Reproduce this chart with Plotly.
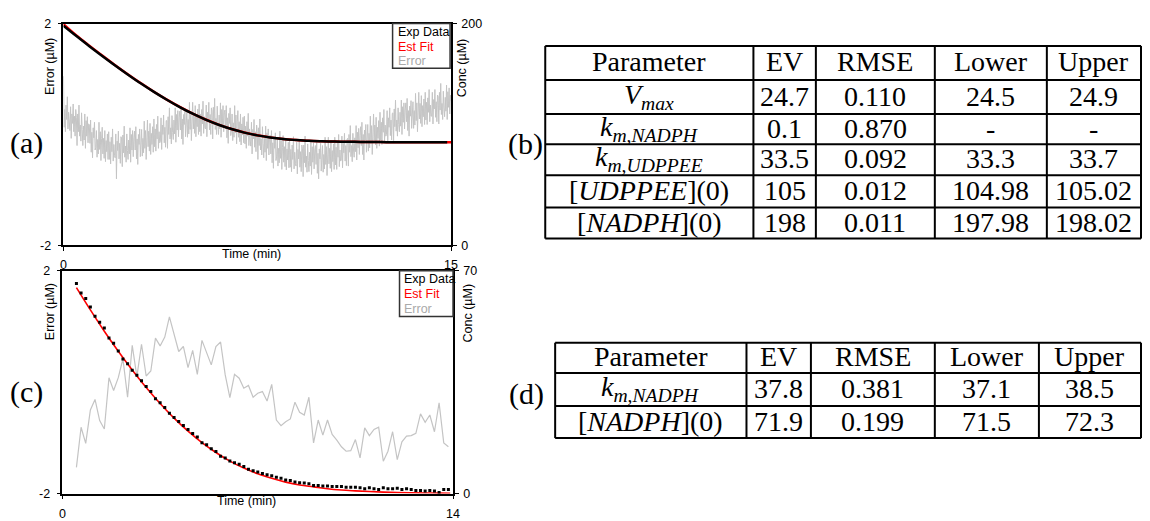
import plotly.graph_objects as go

W, H = 1150, 521

# ---------------- panel (a): full time course, 0-15 min ----------------
t_a_data = [i * 0.5 for i in range(30)] + [14.85]
conc_a_data = [198.0, 188.7, 179.6, 170.8, 162.2, 153.9, 145.9, 138.4, 131.3, 124.7,
               118.7, 113.4, 108.8, 104.9, 101.7, 99.2, 97.3, 95.9, 95.0, 94.3,
               93.9, 93.6, 93.4, 93.3, 93.2, 93.1, 93.1, 93.0, 93.0, 93.0, 93.0]
t_a_fit = [i * 0.5 for i in range(31)]
conc_a_fit = [199.5, 189.3, 180.1, 171.2, 162.5, 154.1, 146.1, 138.5, 131.4, 124.8,
              118.8, 113.5, 108.9, 105.0, 101.8, 99.3, 97.4, 96.0, 95.0, 94.3,
              93.9, 93.6, 93.4, 93.3, 93.2, 93.1, 93.1, 93.0, 93.0, 93.0, 93.0]
t_a_err = [i * 0.025 for i in range(601)]
err_a = [
    1.05, 0.13, 0.45, 0.05, 0.53, 0.27, 0.68, 0.10, 0.40, 0.20,
    0.07, 0.50, -0.07, 0.37, 0.20, 0.55, 0.05, 0.33, -0.03, 0.45,
    0.30, -0.20, 0.37, 0.05, 0.53, -0.03, 0.17, -0.12, 0.39, 0.09,
    -0.20, 0.15, -0.10, 0.37, -0.25, 0.25, -0.03, 0.32, -0.15, 0.19,
    0.18, -0.16, 0.26, -0.32, 0.04, -0.42, 0.12, -0.06, 0.22, -0.28,
    -0.23, 0.07, -0.41, -0.09, -0.35, 0.22, -0.27, 0.05, -0.47, -0.07,
    0.13, -0.35, -0.07, -0.43, 0.07, -0.49, -0.11, -0.31, 0.01, -0.45,
    0.05, -0.45, -0.13, -0.53, -0.05, -0.31, 0.10, -0.48, -0.18, -0.38,
    -0.42, 0.01, -0.80, -0.12, -0.29, 0.06, -0.44, -0.16, -0.52, -0.04,
    -0.08, -0.58, -0.01, -0.33, 0.15, -0.41, -0.21, -0.50, 0.01, -0.29,
    -0.45, -0.10, -0.35, 0.12, -0.50, 0.00, -0.28, 0.07, -0.40, -0.06,
    0.06, -0.28, 0.14, -0.44, -0.08, -0.54, 0.00, -0.18, 0.10, -0.40,
    -0.21, 0.09, -0.39, -0.07, -0.33, 0.24, -0.25, 0.07, -0.45, -0.05,
    0.26, -0.22, 0.06, -0.30, 0.20, -0.36, 0.02, -0.18, 0.14, -0.32,
    0.28, -0.22, 0.10, -0.30, 0.18, -0.08, 0.33, -0.25, 0.05, -0.15,
    -0.13, 0.30, -0.27, 0.17, 0.00, 0.35, -0.15, 0.13, -0.23, 0.25,
    0.25, -0.25, 0.32, 0.00, 0.48, -0.08, 0.12, -0.17, 0.34, 0.04,
    -0.09, 0.26, 0.01, 0.48, -0.14, 0.36, 0.08, 0.43, -0.04, 0.30,
    0.42, 0.08, 0.50, -0.08, 0.28, -0.18, 0.36, 0.18, 0.46, -0.04,
    0.13, 0.43, -0.05, 0.27, 0.01, 0.58, 0.09, 0.41, -0.11, 0.29,
    0.58, 0.10, 0.38, 0.02, 0.52, -0.04, 0.34, 0.14, 0.46, 0.00,
    0.55, 0.05, 0.37, -0.03, 0.45, 0.19, 0.60, 0.02, 0.32, 0.12,
    0.10, 0.53, -0.04, 0.40, 0.23, 0.58, 0.08, 0.36, 0.00, 0.48,
    0.42, -0.08, 0.49, 0.17, 0.65, 0.09, 0.29, 0.00, 0.51, 0.21,
    0.00, 0.35, 0.10, 0.57, -0.05, 0.45, 0.17, 0.52, 0.05, 0.39,
    0.44, 0.10, 0.52, -0.06, 0.30, -0.16, 0.38, 0.20, 0.48, -0.02,
    0.07, 0.37, -0.11, 0.21, -0.05, 0.52, 0.03, 0.35, -0.17, 0.23,
    0.43, -0.05, 0.23, -0.13, 0.37, -0.19, 0.19, -0.01, 0.31, -0.15,
    0.33, -0.17, 0.15, -0.25, 0.23, -0.03, 0.38, -0.20, 0.10, -0.10,
    -0.21, 0.22, -0.35, 0.09, -0.08, 0.27, -0.23, 0.05, -0.31, 0.17,
    0.05, -0.45, 0.12, -0.20, 0.28, -0.28, -0.08, -0.37, 0.14, -0.16,
    -0.42, -0.07, -0.32, 0.15, -0.47, 0.03, -0.25, 0.10, -0.37, -0.03,
    -0.01, -0.35, 0.07, -0.51, -0.15, -0.61, -0.07, -0.25, 0.03, -0.47,
    -0.39, -0.09, -0.57, -0.25, -0.51, 0.06, -0.43, -0.11, -0.63, -0.23,
    -0.02, -0.50, -0.22, -0.58, -0.08, -0.64, -0.26, -0.46, -0.14, -0.60,
    -0.09, -0.59, -0.27, -0.67, -0.19, -0.45, -0.04, -0.62, -0.32, -0.52,
    -0.57, -0.14, -0.71, -0.27, -0.44, -0.09, -0.59, -0.31, -0.67, -0.19,
    -0.26, -0.76, -0.19, -0.51, -0.03, -0.59, -0.39, -0.68, -0.17, -0.47,
    -0.67, -0.32, -0.57, -0.10, -0.72, -0.22, -0.50, -0.15, -0.62, -0.28,
    -0.20, -0.54, -0.12, -0.70, -0.34, -0.80, -0.26, -0.44, -0.16, -0.66,
    -0.50, -0.20, -0.68, -0.36, -0.62, -0.05, -0.54, -0.22, -0.74, -0.34,
    -0.05, -0.53, -0.25, -0.61, -0.11, -0.67, -0.29, -0.49, -0.17, -0.63,
    -0.05, -0.55, -0.23, -0.63, -0.15, -0.41, 0.00, -0.58, -0.28, -0.48,
    -0.46, -0.03, -0.60, -0.16, -0.33, 0.02, -0.48, -0.20, -0.56, -0.08,
    -0.07, -0.57, 0.00, -0.32, 0.16, -0.40, -0.20, -0.49, 0.02, -0.28,
    -0.41, -0.06, -0.31, 0.16, -0.46, 0.04, -0.24, 0.11, -0.36, -0.02,
    0.14, -0.20, 0.22, -0.36, 0.00, -0.46, 0.08, -0.10, 0.18, -0.32,
    -0.12, 0.18, -0.30, 0.02, -0.24, 0.33, -0.16, 0.16, -0.36, 0.04,
    0.37, -0.11, 0.17, -0.19, 0.31, -0.25, 0.13, -0.07, 0.25, -0.21,
    0.40, -0.10, 0.22, -0.18, 0.30, 0.04, 0.45, -0.13, 0.17, -0.03,
    0.00, 0.43, -0.14, 0.30, 0.13, 0.48, -0.02, 0.26, -0.10, 0.38,
    0.39, -0.11, 0.46, 0.14, 0.62, 0.06, 0.26, -0.03, 0.48, 0.18,
    0.05, 0.40, 0.15, 0.62, 0.00, 0.50, 0.22, 0.57, 0.10, 0.44,
    0.57, 0.23, 0.65, 0.07, 0.43, -0.03, 0.51, 0.33, 0.61, 0.11,
    0.29, 0.59, 0.11, 0.43, 0.17, 0.74, 0.25, 0.57, 0.05, 0.45,
    0.76, 0.28, 0.56, 0.20, 0.70, 0.14, 0.52, 0.32, 0.64, 0.18,
    0.76, 0.26, 0.58, 0.18, 0.66, 0.40, 0.81, 0.23, 0.53, 0.33,
    0.33, 0.76, 0.19, 0.63, 0.46, 0.81, 0.31, 0.59, 0.23, 0.71,
    0.69, 0.19, 0.76, 0.44, 0.92, 0.36, 0.56, 0.27, 0.78, 0.48,
    0.32, 0.67, 0.42, 0.89, 0.27, 0.77, 0.49, 0.84, 0.37, 0.71,
    0.60]

# ---------------- panel (c): sampled every 10 s, 0-14 min ----------------
t_c = [0.5 + i / 6 for i in range(81)]
conc_c_data = [66.0, 63.0, 61.3, 58.6, 55.7, 53.8, 52.0, 48.9, 47.2, 44.8,
               42.3, 40.8, 38.7, 37.2, 35.4, 33.6, 32.1, 29.8, 28.5, 27.0,
               25.2, 23.9, 22.6, 21.4, 20.1, 18.9, 17.8, 16.0, 15.3, 14.1,
               13.2, 11.7, 11.2, 10.2, 9.7, 9.2, 8.5, 7.6, 7.2, 6.8,
               6.3, 5.9, 5.6, 5.1, 4.8, 4.3, 4.1, 3.6, 3.4, 3.3,
               3.1, 2.5, 2.5, 2.4, 2.4, 2.2, 2.2, 2.2, 2.0, 2.0,
               2.0, 1.8, 1.5, 1.8, 1.5, 1.3, 1.8, 1.5, 1.5, 1.7,
               1.3, 1.5, 1.3, 1.0, 1.0, 0.8, 1.0, 0.8, 0.3, 1.3, 1.3]
err_c = [-1.53, -0.81, -1.10, -0.50, -0.31, -0.69, -0.84, 0.08, -0.15, 0.08,
         0.42, -0.27, 0.66, 0.10, 0.68, 0.11, 0.20, 0.79, 0.65, 0.81,
         1.17, 0.85, 0.55, 0.64, 0.26, 0.57, 0.14, 0.75, 0.54, 0.31,
         0.64, 0.72, 0.13, -0.28, 0.14, 0.07, -0.11, -0.06, -0.27, -0.20,
         -0.17, -0.34, -0.04, -0.68, -0.78, -0.71, -0.66, -0.36, -0.54, -0.59,
         -0.27, -1.09, -0.68, -0.95, -0.68, -0.94, -1.04, -1.16, -1.24, -1.23,
         -1.03, -1.36, -0.82, -0.96, -0.85, -0.81, -1.42, -1.24, -0.89, -1.39,
         -1.07, -0.97, -0.96, -0.92, -0.57, -0.72, -0.59, -0.89, -0.37, -1.09, -1.16]
t_c_fit = [0.5 + i * 0.5 for i in range(27)] + [13.9]
conc_c_fit = [64.7, 57.7, 51.0, 44.7, 38.8, 33.3, 28.3, 23.7, 19.6, 16.0,
              12.9, 10.2, 8.0, 6.2, 4.8, 3.6, 2.7, 2.1, 1.5, 1.1,
              0.85, 0.63, 0.46, 0.34, 0.25, 0.18, 0.14, 0.11]

# ---------------- parameter tables ----------------
table_header = ["Parameter", "EV", "RMSE", "Lower", "Upper"]
params_b = ["<i>V</i><sub><i>max</i></sub>",
            "<i>k</i><sub><i>m</i>,<i>NADPH</i></sub>",
            "<i>k</i><sub><i>m</i>,<i>UDPPEE</i></sub>",
            "[<i>UDPPEE</i>](0)",
            "[<i>NADPH</i>](0)"]
ev_b = ["24.7", "0.1", "33.5", "105", "198"]
rmse_b = ["0.110", "0.870", "0.092", "0.012", "0.011"]
lower_b = ["24.5", "-", "33.3", "104.98", "197.98"]
upper_b = ["24.9", "-", "33.7", "105.02", "198.02"]

params_d = ["<i>k</i><sub><i>m</i>,<i>NADPH</i></sub>", "[<i>NADPH</i>](0)"]
ev_d = ["37.8", "71.9"]
rmse_d = ["0.381", "0.199"]
lower_d = ["37.1", "71.5"]
upper_d = ["38.5", "72.3"]

SANS = "Liberation Sans, Arial, sans-serif"
SERIF = "Liberation Serif, Times New Roman, serif"
RED = "#ff0000"
GREY_A = "#c4c4c4"
GREY_C = "#c4c4c4"
FS = 12.5


def px(x):
    return x / W


def py(y):
    return 1 - y / H


fig = go.Figure()

# panel (a)
fig.add_trace(go.Scatter(x=t_a_err, y=err_a, mode="lines", xaxis="x", yaxis="y",
                         line=dict(color=GREY_A, width=1), name="Error"))
fig.add_trace(go.Scatter(x=t_a_fit, y=conc_a_fit, mode="lines", xaxis="x", yaxis="y2",
                         line=dict(color=RED, width=2.5, shape="spline"), name="Est Fit"))
fig.add_trace(go.Scatter(x=t_a_data, y=conc_a_data, mode="lines", xaxis="x", yaxis="y2",
                         line=dict(color="black", width=2.5, shape="spline"), name="Exp Data"))

# panel (c)
fig.add_trace(go.Scatter(x=t_c, y=err_c, mode="lines", xaxis="x2", yaxis="y3",
                         line=dict(color=GREY_C, width=1.2), name="Error"))
fig.add_trace(go.Scatter(x=t_c_fit, y=conc_c_fit, mode="lines", xaxis="x2", yaxis="y4",
                         line=dict(color=RED, width=1.6, shape="spline"), name="Est Fit"))
fig.add_trace(go.Scatter(x=t_c, y=conc_c_data, mode="markers", xaxis="x2", yaxis="y4",
                         marker=dict(color="black", size=3, symbol="square"), name="Exp Data"))

tick_font = dict(family=SANS, size=FS, color="black")
axis_common = dict(showgrid=False, zeroline=False, showline=True, linecolor="black",
                   linewidth=1.5, ticks="outside", ticklen=4, tickwidth=1.2,
                   tickcolor="black", tickfont=tick_font, fixedrange=True)

dom_a_x = [px(61), px(452)]
dom_a_y = [py(245), py(17)]
dom_c_x = [px(60), px(454)]
dom_c_y = [py(500), py(271)]

err_ticks = dict(tickvals=[-2, 2], ticktext=["-2", "2"], ticklabelstandoff=4)

fig.update_layout(
    width=W, height=H, margin=dict(l=0, r=0, t=0, b=0),
    paper_bgcolor="white", plot_bgcolor="white", showlegend=False,
    xaxis=dict(axis_common, domain=dom_a_x, range=[0, 15], tickvals=[0, 15],
               anchor="y", mirror=True, ticklabelstandoff=3),
    yaxis=dict(axis_common, domain=dom_a_y, range=[-2, 2], anchor="x", **err_ticks),
    yaxis2=dict(axis_common, range=[0, 200], tickvals=[0, 200], overlaying="y",
                side="right", anchor="x", ticklabelstandoff=2),
    xaxis2=dict(axis_common, domain=dom_c_x, range=[0, 14], tickvals=[0, 14],
                anchor="y3", mirror=True, ticklabelstandoff=4),
    yaxis3=dict(axis_common, domain=dom_c_y, range=[-2, 2], anchor="x2", **err_ticks),
    yaxis4=dict(axis_common, range=[0, 70], tickvals=[0, 70], overlaying="y3",
                side="right", anchor="x2", ticklabelstandoff=2),
)

annotations = []
shapes = []


def text(x, y, s, size=FS, color="black", family=SANS, angle=0, xanchor="center"):
    annotations.append(dict(x=px(x), y=py(y), xref="paper", yref="paper", text=s,
                            showarrow=False, xanchor=xanchor, yanchor="middle",
                            textangle=angle, font=dict(family=family, size=size, color=color)))


# axis titles
text(48, 61, "Error (µM)", angle=-90)
text(463, 62, "Conc (µM)", angle=-90)
text(251, 254, "Time (min)")
text(47, 313, "Error (µM)", angle=-90)
text(469, 314, "Conc (µM)", angle=-90)
text(246, 508, "Time (min)")

# in-plot legends
for (x0, x1, y0, y1) in [(393, 451, 17, 63), (400, 454, 271, 318)]:
    shapes.append(dict(type="rect", xref="paper", yref="paper", x0=px(x0), x1=px(x1),
                       y0=py(y1), y1=py(y0), line=dict(color="#333333", width=1.5),
                       fillcolor="white"))
    for k, (lab, col) in enumerate([("Exp Data", "black"), ("Est Fit", RED), ("Error", "#aaaaaa")]):
        text(x0 + 3, y0 + 9 + 15 * k, lab, color=col, xanchor="left")

# panel letters
text(24, 140, "(a)", size=30, family=SERIF)
text(527, 141, "(b)", size=30, family=SERIF)
text(24, 396, "(c)", size=30, family=SERIF)
text(528, 398, "(d)", size=30, family=SERIF)


def table(cols, rows, columns):
    for xe in cols:
        shapes.append(dict(type="line", xref="paper", yref="paper", x0=px(xe), x1=px(xe),
                           y0=py(rows[0]), y1=py(rows[-1]), line=dict(color="black", width=2)))
    for ye in rows:
        shapes.append(dict(type="line", xref="paper", yref="paper", x0=px(cols[0]), x1=px(cols[-1]),
                           y0=py(ye), y1=py(ye), line=dict(color="black", width=2)))
    for j, col in enumerate(columns):
        xc = (cols[j] + cols[j + 1]) / 2
        for i, s in enumerate(col):
            yc = (rows[i] + rows[i + 1]) / 2
            text(xc, yc - 1, s, size=28, family=SERIF)


cols_b = [547, 757, 820, 940, 1053, 1148]
rows_b = [40, 75, 110, 141, 173, 206, 238]
table(cols_b, rows_b, [[h] + c for h, c in zip(table_header, [params_b, ev_b, rmse_b, lower_b, upper_b])])

cols_d = [557, 750, 815, 940, 1045, 1148]
rows_d = [345, 376, 410, 443]
table(cols_d, rows_d, [[h] + c for h, c in zip(table_header, [params_d, ev_d, rmse_d, lower_d, upper_d])])

fig.update_layout(annotations=annotations, shapes=shapes)
fig.write_html("out.html")
